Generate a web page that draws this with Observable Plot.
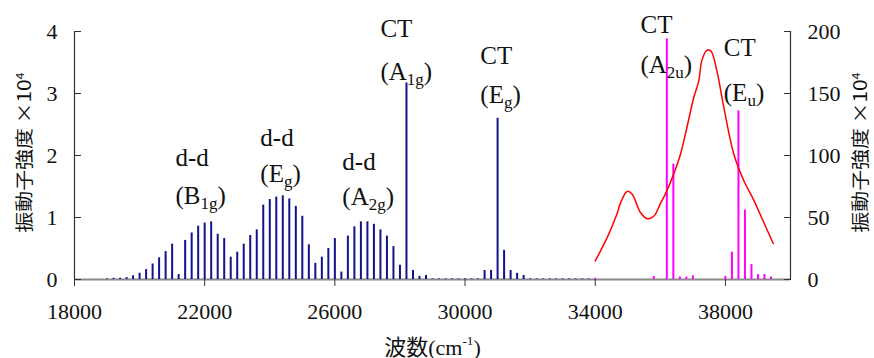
<!DOCTYPE html>
<html><head><meta charset="utf-8">
<script src="https://cdn.jsdelivr.net/npm/d3@7"></script>
<script src="https://cdn.jsdelivr.net/npm/@observablehq/plot@0.6"></script>
<style>
body{margin:0;background:#fff;}
#chart svg{background:#fff;overflow:visible;}
</style></head><body><div id="chart"></div>
<script>
// d-d and CT (g) calculated oscillator strengths, left axis (x10^4)
const blueWavenumbers = [19000,19200,19400,19600,19800,20000,20200,20400,20600,20800,21000,21200,21400,21600,21800,22000,22200,22400,22600,22800,23000,23200,23400,23600,23800,24000,24200,24400,24600,24800,25000,25200,25400,25600,25800,26000,26200,26400,26600,26800,27000,27200,27400,27600,27800,28000,28200,28400,28600,28800,29000,29200,29400,29600,29800,30000,30200,30400,30600,30800,31000,31200,31400,31600,31800,32000,32200,32400,32600,32800,33000,33200,33400,33600,33800];
const blueValues = [0.01,0.02,0.02,0.03,0.06,0.10,0.16,0.25,0.35,0.45,0.57,0.08,0.63,0.75,0.86,0.91,0.93,0.73,0.66,0.36,0.44,0.57,0.71,0.80,1.20,1.29,1.33,1.35,1.30,1.18,1.02,0.56,0.26,0.36,0.50,0.66,0.12,0.70,0.85,0.93,0.93,0.89,0.80,0.70,0.53,0.23,3.17,0.145,0.05,0.065,0.01,0.01,0.01,0.01,0.01,0.01,0.01,0.01,0.145,0.145,2.60,0.47,0.145,0.10,0.065,0.01,0.01,0.01,0.01,0.01,0.01,0.01,0.01,0.01,0.01];

// CT (u) oscillator strengths, right axis (x10^4)
const magentaWavenumbers = [34000,35800,36200,36400,36600,36800,37000,38000,38200,38400,38600,38800,39000,39200,39400];
const magentaValues = [1,2.4,194,93,2,2,3,2.5,22,136,56,12,4,4,2];

// observed spectrum (red), right axis
const redWavenumbers = [34000,34370,34670,34780,34980,35130,35390,35600,35800,36000,36210,36410,36620,36820,37030,37180,37280,37440,37560,37740,37950,38260,38560,38870,39180,39470];
const redValues = [15,34,53,62,71,69,54,49,51,61,72,85,101,123,147,160,177,185,184,168,139,101,80,64,46,29];

// axis ticks
const xTicks = [18000,22000,26000,30000,34000,38000];
const leftTicks = [0,1,2,3,4];
const rightTickLabels = [0,50,100,150,200];

// annotations (label, wavenumber, left-axis value of text top)
const annoLabels = ["d-d","(B_{1g})","d-d","(E_{g})","d-d","(A_{2g})","CT","(A_{1g})","CT","(E_{g})","CT","(A_{2u})","CT","(E_{u})"];
const annoX = [21100,21100,23710,23710,26230,26230,27400,27400,30470,30470,35390,35390,37950,37950];
const annoY = [2.11,1.50,2.44,1.86,2.05,1.49,4.19,3.50,3.77,3.14,4.26,3.61,3.89,3.16];

const yTitle = "振動子強度 ×10^{4}";
const xTitle = "波数(cm^{-1})";

const blue = blueWavenumbers.map((x,i)=>({x, v: blueValues[i]}));
const magenta = magentaWavenumbers.map((x,i)=>({x, v: magentaValues[i]}));
const red = redWavenumbers.map((x,i)=>({x, v: redValues[i]}));
const annos = annoLabels.map((t,i)=>({t, x: annoX[i], y: annoY[i]}));
const R = 50; // right axis units per left axis unit

const serif = "'Liberation Serif','Times New Roman','Noto Sans CJK JP',serif";
const sans = "'Noto Sans CJK JP','DejaVu Sans',sans-serif";

const chart = Plot.plot({
  width: 874, height: 358,
  marginLeft: 74, marginRight: 84, marginTop: 31, marginBottom: 79,
  style: {fontFamily: serif, fontSize: "22px", background: "#fff", color: "#111"},
  x: {domain: [18000, 40000]},
  y: {domain: [0, 4]},
  marks: [
    Plot.ruleY([0], {stroke: "#8a8a8a", strokeWidth: 2}),
    Plot.ruleX(blue, {x: "x", y1: 0, y2: "v", stroke: "#12128a", strokeWidth: 2}),
    Plot.ruleX(magenta, {x: "x", y1: 0, y2: d => d.v / R, stroke: "#ff00ff", strokeWidth: 2}),
    Plot.line(red, {x: "x", y: d => d.v / R, stroke: "#ff0000", strokeWidth: 1.5, curve: "catmull-rom"}),
    Plot.ruleX([18000, 40000], {y1: 0, y2: 4, stroke: "#333", strokeWidth: 1.2}),
    Plot.axisX({ticks: xTicks, tickFormat: d3.format("d"), tickSize: 7, tickPadding: 17, fontSize: 22, label: null, stroke: "#333"}),
    Plot.axisY({anchor: "left", ticks: leftTicks, tickFormat: d3.format("d"), tickSize: -7, tickPadding: 24, fontSize: 22, label: null, stroke: "#333"}),
    Plot.axisY({anchor: "right", ticks: leftTicks, tickFormat: d => String(rightTickLabels[leftTicks.indexOf(d)]), tickSize: -7, tickPadding: 24, fontSize: 22, label: null, stroke: "#333"}),
    Plot.text(annos, {x: "x", y: "y", text: "t", textAnchor: "start", lineAnchor: "top", fontSize: 25, fill: "#111"}),
    Plot.text([xTitle], {frameAnchor: "bottom", dy: 68, textAnchor: "middle", lineAnchor: "middle", fontSize: 22, fill: "#111"}),
    Plot.text([yTitle], {frameAnchor: "left", dx: -49, dy: -3, rotate: -90, textAnchor: "middle", lineAnchor: "middle", fontSize: 18, fontFamily: sans, fill: "#111", className: "ytitle"}),
    Plot.text([yTitle], {frameAnchor: "right", dx: 71, dy: -3, rotate: -90, textAnchor: "middle", lineAnchor: "middle", fontSize: 18, fontFamily: sans, fill: "#111", className: "ytitle"})
  ]
});
document.getElementById("chart").appendChild(chart);

// render _{sub} and ^{sup} markup as tspans
const NS = "http://www.w3.org/2000/svg";
chart.querySelectorAll("text").forEach(el => {
  const s = el.textContent;
  if (!/[_^]\{/.test(s)) return;
  const fs = parseFloat(getComputedStyle(el).fontSize) || 22;
  el.textContent = "";
  const re = /([_^])\{([^}]*)\}/g;
  let last = 0, m, cur = 0;
  const add = (txt, size, shift) => {
    const t = document.createElementNS(NS, "tspan");
    t.textContent = txt;
    if (size) t.setAttribute("font-size", size);
    const d = shift - cur;
    if (d) t.setAttribute("dy", d);
    cur = shift;
    el.appendChild(t);
  };
  while ((m = re.exec(s))) {
    if (m.index > last) add(s.slice(last, m.index), null, 0);
    if (m[1] === "_") add(m[2], fs * 0.68, fs * 0.2);
    else add(m[2], fs * 0.6, -fs * 0.42);
    last = re.lastIndex;
  }
  if (last < s.length) add(s.slice(last), null, 0);
});
// stretch the rotated axis titles to the reference length
chart.querySelectorAll(".ytitle text").forEach(el => {
  el.setAttribute("textLength", 160);
  el.setAttribute("lengthAdjust", "spacingAndGlyphs");
});
</script>
</body></html>
